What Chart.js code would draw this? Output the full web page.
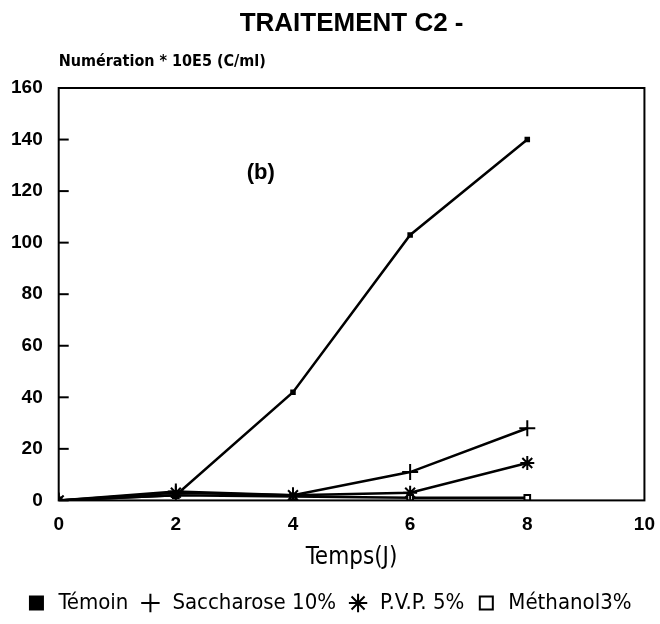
<!DOCTYPE html>
<html>
<head>
<meta charset="utf-8">
<script src="https://cdn.jsdelivr.net/npm/chart.js@4"></script>
<style>
  html, body { margin: 0; padding: 0; background: #fff; }
  #wrap { width: 660px; height: 624px; }
</style>
</head>
<body>
<div id="wrap"><canvas id="c"></canvas></div>
<script>
// Données (b)
const jours = [0, 2, 4, 6, 8];
const temoin = [0, 2, 42, 103, 140];
const saccharose = [0, 3.5, 2, 11, 28];
const pvp = [0, 3, 2, 3, 14.5];
const methanol = [0, 2, 1.5, 1, 1];

const FONT = "'Liberation Sans', Arial, sans-serif";
const NARROW = "'DejaVu Sans Condensed', 'Liberation Sans Narrow', 'Liberation Sans', sans-serif";

function serie(label, values, style, radius, fill) {
    return {
        label: label,
        data: jours.map((j, i) => ({ x: j, y: values[i] })),
        borderColor: '#000',
        backgroundColor: fill,
        pointBackgroundColor: fill,
        pointBorderColor: '#000',
        pointStyle: style,
        pointRadius: radius,
        pointBorderWidth: 2,
        borderWidth: 2.5,
        tension: 0
    };
}

// Cadre, graduations intérieures et textes libres
const decor = {
    id: 'decor',
    afterDraw(chart) {
        const ctx = chart.ctx;
        const a = chart.chartArea;
        const ys = chart.scales.y;
        const xs = chart.scales.x;
        ctx.save();
        ctx.strokeStyle = '#000';
        ctx.lineWidth = 2;
        ctx.strokeRect(a.left, a.top, a.right - a.left, a.bottom - a.top);
        ys.ticks.forEach(t => {
            const py = ys.getPixelForValue(t.value);
            ctx.beginPath();
            ctx.moveTo(a.left, py);
            ctx.lineTo(a.left + 10, py);
            ctx.stroke();
        });
        ctx.fillStyle = '#000';
        ctx.textAlign = 'center';
        ctx.textBaseline = 'middle';
        ctx.font = "bold 26px " + FONT;
        ctx.fillText('TRAITEMENT C2 -', (a.left + a.right) / 2, 24);
        ctx.textAlign = 'left';
        ctx.font = "bold 16px " + NARROW;
        ctx.fillText('Numération * 10E5 (C/ml)', a.left, 62);
        ctx.textAlign = 'center';
        ctx.font = "bold 22px " + FONT;
        ctx.fillText('(b)', xs.getPixelForValue(3.45), ys.getPixelForValue(127));
        ctx.restore();
    }
};

new Chart(document.getElementById('c'), {
    type: 'line',
    data: {
        datasets: [
            serie('Témoin', temoin, 'rect', 2.5, '#000'),
            serie('Saccharose 10%', saccharose, 'cross', 8, '#fff'),
            serie('P.V.P. 5%', pvp, 'star', 7, '#fff'),
            serie('Méthanol3%', methanol, 'rect', 4, '#fff')
        ]
    },
    options: {
        responsive: true,
        maintainAspectRatio: false,
        animation: false,
        layout: { padding: { top: 88, left: 3, right: 6, bottom: 0 } },
        plugins: {
            legend: {
                position: 'bottom',
                labels: {
                    usePointStyle: true,
                    color: '#000',
                    font: { size: 22, family: NARROW },
                    padding: 11,
                    boxHeight: 13
                }
            },
            tooltip: { enabled: false }
        },
        scales: {
            x: {
                type: 'linear',
                min: 0,
                max: 10,
                grid: { display: false },
                border: { display: false },
                ticks: {
                    stepSize: 2,
                    color: '#000',
                    font: { size: 19, weight: 'bold', family: FONT },
                    padding: 5
                },
                title: {
                    display: true,
                    text: 'Temps(J)',
                    color: '#000',
                    font: { size: 24, family: NARROW },
                    padding: { top: 2, bottom: 9 }
                }
            },
            y: {
                min: 0,
                max: 160,
                grid: { display: false },
                border: { display: false },
                ticks: {
                    stepSize: 20,
                    color: '#000',
                    font: { size: 19, weight: 'bold', family: FONT },
                    padding: 8
                }
            }
        }
    },
    plugins: [decor]
});
</script>
</body>
</html>
